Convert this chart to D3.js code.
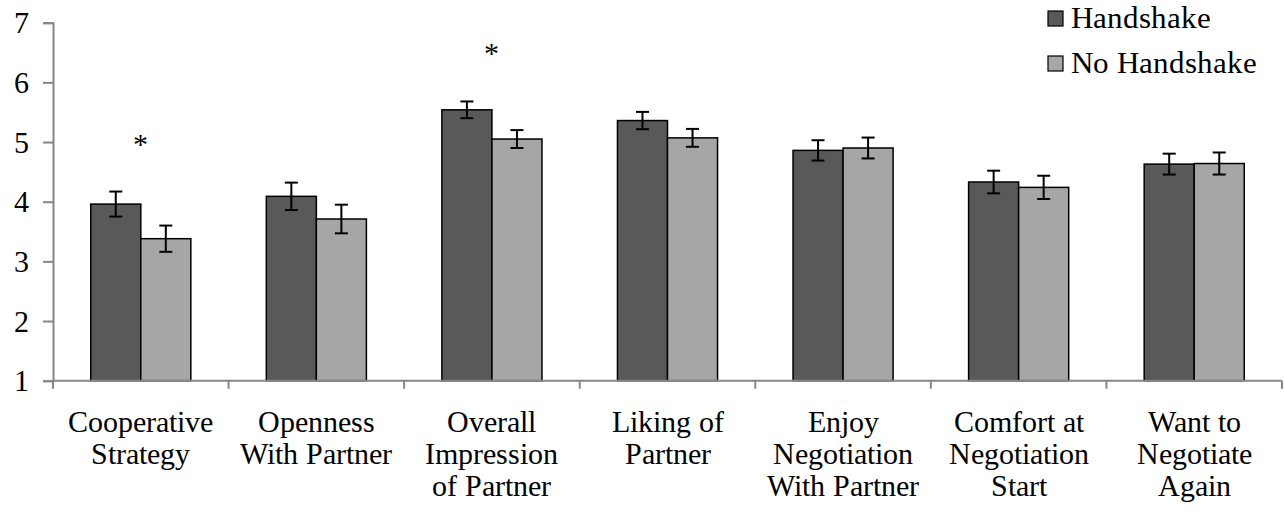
<!DOCTYPE html>
<html>
<head>
<meta charset="utf-8">
<script src="https://cdn.jsdelivr.net/npm/d3@7"></script>
<style>
  @font-face {
    font-family: "ChartSerif";
    src: local("Liberation Serif"), local("LiberationSerif"), local("LiberationSerif-Regular"),
         local("DejaVu Serif"), local("DejaVuSerif");
  }
  body { margin: 0; background: #fff; }
</style>
</head>
<body>
<svg id="chart" width="1284" height="514"></svg>
<script>
var categories = [
  ["Cooperative", "Strategy"],
  ["Openness", "With Partner"],
  ["Overall", "Impression", "of Partner"],
  ["Liking of", "Partner"],
  ["Enjoy", "Negotiation", "With Partner"],
  ["Comfort at", "Negotiation", "Start"],
  ["Want to", "Negotiate", "Again"]
];
var seriesNames = ["Handshake", "No Handshake"];
var handshake = [3.96, 4.09, 5.54, 5.36, 4.86, 4.33, 4.63];
var handshakeErr = [0.21, 0.23, 0.14, 0.145, 0.17, 0.19, 0.175];
var noHandshake = [3.38, 3.71, 5.05, 5.07, 4.90, 4.24, 4.64];
var noHandshakeErr = [0.22, 0.24, 0.15, 0.15, 0.175, 0.195, 0.185];
var significant = [true, false, true, false, false, false, false];
var yTicks = [1, 2, 3, 4, 5, 6, 7];

var colors = ["#595959", "#a6a6a6"];
var serif = "ChartSerif, 'Liberation Serif', 'DejaVu Serif', serif";
var margin = {left: 53, right: 2, top: 22.7, bottom: 133.3};
var width = 1284, height = 514;

var svg = d3.select("#chart").attr("font-family", serif);

var x0 = d3.scaleBand()
  .domain(d3.range(categories.length))
  .range([margin.left, width - margin.right])
  .paddingInner(0.43)
  .paddingOuter(0.215);

var x1 = d3.scaleBand()
  .domain([0, 1])
  .range([0, x0.bandwidth()]);

var y = d3.scaleLinear()
  .domain([1, 7])
  .range([height - margin.bottom, margin.top]);

// rows built from the arrays
var rows = categories.map(function(c, i){
  return {
    i: i,
    vals: [
      {s: 0, v: handshake[i], e: handshakeErr[i]},
      {s: 1, v: noHandshake[i], e: noHandshakeErr[i]}
    ]
  };
});

// y axis
var yAxis = svg.append("g")
  .attr("transform", "translate(" + margin.left + ",0)")
  .call(d3.axisLeft(y).tickValues(yTicks).tickSize(10).tickPadding(14).tickFormat(d3.format("d")));
yAxis.attr("font-family", serif).attr("font-size", 30);
yAxis.select(".domain").attr("stroke", "#868686").attr("stroke-width", 2);
yAxis.selectAll(".tick line").attr("stroke", "#868686").attr("stroke-width", 2);
yAxis.selectAll(".tick text").attr("dy", "0.34em").attr("fill", "#000");

// bars
var groups = svg.append("g").selectAll("g")
  .data(rows)
  .enter().append("g")
  .attr("transform", function(d){ return "translate(" + x0(d.i) + ",0)"; });

groups.selectAll("rect")
  .data(function(d){ return d.vals; })
  .enter().append("rect")
  .attr("x", function(d){ return x1(d.s); })
  .attr("width", x1.bandwidth())
  .attr("y", function(d){ return y(d.v); })
  .attr("height", function(d){ return y(1) - y(d.v); })
  .attr("fill", function(d){ return colors[d.s]; })
  .attr("stroke", "#000")
  .attr("stroke-width", 1.5);

// error bars
var err = groups.selectAll("g.err")
  .data(function(d){ return d.vals; })
  .enter().append("g").attr("class", "err")
  .attr("stroke", "#000").attr("stroke-width", 2);
err.append("line")
  .attr("x1", function(d){ return x1(d.s) + x1.bandwidth() / 2; })
  .attr("x2", function(d){ return x1(d.s) + x1.bandwidth() / 2; })
  .attr("y1", function(d){ return y(d.v + d.e); })
  .attr("y2", function(d){ return y(d.v - d.e); });
[1, -1].forEach(function(sign){
  err.append("line")
    .attr("x1", function(d){ return x1(d.s) + x1.bandwidth() / 2 - 6.5; })
    .attr("x2", function(d){ return x1(d.s) + x1.bandwidth() / 2 + 6.5; })
    .attr("y1", function(d){ return y(d.v + sign * d.e); })
    .attr("y2", function(d){ return y(d.v + sign * d.e); });
});

// significance asterisks
groups.filter(function(d){ return significant[d.i]; })
  .append("text")
  .attr("x", x0.bandwidth() / 2)
  .attr("y", function(d){ return y(d3.max(d.vals, function(v){ return v.v + v.e; })) - 37; })
  .attr("text-anchor", "middle")
  .attr("font-size", 30)
  .text("*");

// x axis with ticks on category boundaries
var xAxisG = svg.append("g");
xAxisG.append("line")
  .attr("x1", margin.left).attr("x2", width - margin.right)
  .attr("y1", y(1)).attr("y2", y(1))
  .attr("stroke", "#868686").attr("stroke-width", 2);
var bounds = d3.range(categories.length + 1).map(function(i){
  return margin.left + i * x0.step();
});
xAxisG.selectAll("line.tick")
  .data(bounds)
  .enter().append("line").attr("class", "tick")
  .attr("x1", function(d){ return d; }).attr("x2", function(d){ return d; })
  .attr("y1", y(1)).attr("y2", y(1) + 8)
  .attr("stroke", "#868686").attr("stroke-width", 2);

var labels = xAxisG.selectAll("text")
  .data(categories)
  .enter().append("text")
  .attr("text-anchor", "middle")
  .attr("transform", function(d, i){ return "translate(" + (x0(i) + x0.bandwidth() / 2) + ",432)"; })
  .attr("font-size", 30);
labels.selectAll("tspan")
  .data(function(d){ return d; })
  .enter().append("tspan")
  .attr("x", 0)
  .attr("y", function(d, j){ return j * 32; })
  .text(function(d){ return d; });

// legend
var legend = svg.append("g").attr("transform", "translate(1048,0)");
var items = legend.selectAll("g")
  .data(seriesNames)
  .enter().append("g")
  .attr("transform", function(d, i){ return "translate(0," + (i * 45) + ")"; });
items.append("rect")
  .attr("x", 0).attr("y", 11).attr("width", 15).attr("height", 15)
  .attr("fill", function(d, i){ return colors[i]; })
  .attr("stroke", "#000").attr("stroke-width", 1.2);
items.append("text")
  .attr("x", 23).attr("y", 28)
  .attr("font-size", 31)
  .text(function(d){ return d; });
</script>
</body>
</html>
